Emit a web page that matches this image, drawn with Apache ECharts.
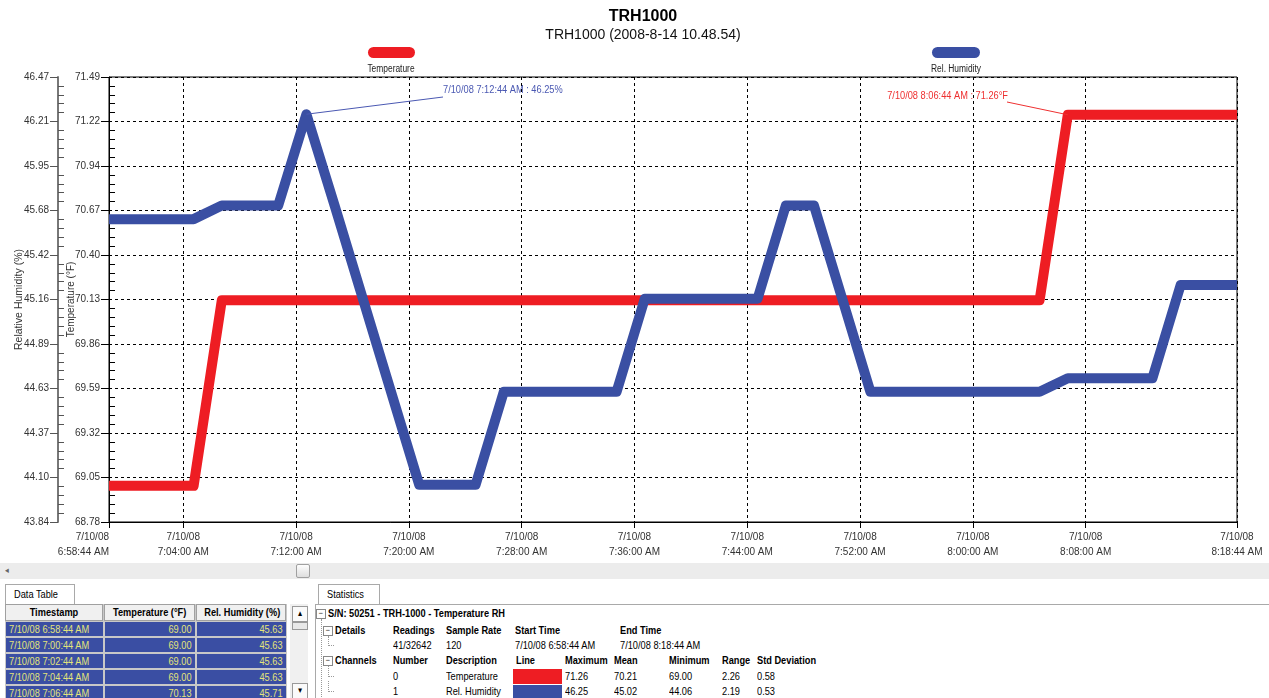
<!DOCTYPE html>
<html>
<head>
<meta charset="UTF-8">
<script src="https://cdn.jsdelivr.net/npm/echarts@6/dist/echarts.min.js"></script>
<style>
body{margin:0;background:#fff;font-family:'Liberation Sans',Arial,sans-serif;}
#chart{position:absolute;left:0;top:0;width:1269px;height:562px;}
#panel{position:absolute;left:0;top:562px;width:1269px;height:136px;overflow:hidden;font-size:11px;color:#000;}
.abs{position:absolute;white-space:nowrap;}
.n{display:inline-block;transform:scaleX(0.84);transform-origin:left center;}
.r .n{transform-origin:right center;}
.c .n{transform-origin:center center;}
.hscroll{left:0;top:1px;width:1269px;height:16px;background:#ececec;}
.hthumb{left:296px;top:2px;width:12px;height:12px;border:1px solid #a0a0a0;background:linear-gradient(#fdfdfd,#dedede);border-radius:2px;}
.tab{top:22px;height:19px;border:1px solid #a9a9a9;border-bottom:none;background:#fff;line-height:19px;padding:0 8px;font-size:11px;}
.hd{background:#f0f0f0;border:1px solid #a0a0a0;font-weight:bold;text-align:center;height:15px;line-height:15px;}
.cell{background:#3a4ea3;color:#e4e47a;height:14px;line-height:14px;padding:0 3px;box-sizing:border-box;}
.box{width:8px;height:8px;border:1px solid #888;background:#fff;font-size:9px;line-height:7px;text-align:center;color:#333;}
.b{font-weight:bold;}
</style>
</head>
<body>
<div id="chart"></div>
<div id="panel"></div>
<script>
// readings every 2 minutes, 7/10/08
var times = ['06:58:44','07:00:44','07:02:44','07:04:44','07:06:44','07:08:44','07:10:44','07:12:44','07:14:44','07:16:44',
  '07:18:44','07:20:44','07:22:44','07:24:44','07:26:44','07:28:44','07:30:44','07:32:44','07:34:44','07:36:44',
  '07:38:44','07:40:44','07:42:44','07:44:44','07:46:44','07:48:44','07:50:44','07:52:44','07:54:44','07:56:44',
  '07:58:44','08:00:44','08:02:44','08:04:44','08:06:44','08:08:44','08:10:44','08:12:44','08:14:44','08:16:44','08:18:44'];
var temperature = [69.00,69.00,69.00,69.00,
  70.13,70.13,70.13,70.13,70.13,70.13,70.13,70.13,70.13,70.13,
  70.13,70.13,70.13,70.13,70.13,70.13,70.13,70.13,70.13,70.13,
  70.13,70.13,70.13,70.13,70.13,70.13,70.13,70.13,70.13,70.13,
  71.26,71.26,71.26,71.26,71.26,71.26,71.26];
var humidity = [45.63,45.63,45.63,45.63,
  45.71,45.71,45.71,
  46.25,
  45.71,45.16,44.61,
  44.06,44.06,44.06,
  44.61,44.61,44.61,44.61,44.61,
  45.16,45.16,45.16,45.16,45.16,
  45.71,45.71,
  45.16,
  44.61,44.61,44.61,44.61,44.61,44.61,44.61,
  44.69,44.69,44.69,44.69,
  45.24,45.24,45.24];
var xTicks = ['06:58:44','07:04:00','07:12:00','07:20:00','07:28:00','07:36:00','07:44:00','07:52:00','08:00:00','08:08:00','08:18:44'];
var tempTicks = ['68.78','69.05','69.32','69.59','69.86','70.13','70.40','70.67','70.94','71.22','71.49'];
var humTicks = ['43.84','44.10','44.37','44.63','44.89','45.16','45.42','45.68','45.95','46.21','46.47'];

// data table (first rows) and statistics
var tableRows = [
  ['7/10/08 6:58:44 AM','69.00','45.63'],
  ['7/10/08 7:00:44 AM','69.00','45.63'],
  ['7/10/08 7:02:44 AM','69.00','45.63'],
  ['7/10/08 7:04:44 AM','69.00','45.63'],
  ['7/10/08 7:06:44 AM','70.13','45.71']
];
var statRows = [
  ['0','Temperature','#ee1d23','71.26','70.21','69.00','2.26','0.58'],
  ['1','Rel. Humidity','#3a4fa3','46.25','45.02','44.06','2.19','0.53']
];

function toSec(s){ var p = s.split(':'); return (+p[0])*3600 + (+p[1])*60 + (+p[2]); }
function fmtTime(sec){
  var h = Math.floor(sec/3600), m = Math.floor(sec%3600/60), s = sec%60;
  var ap = h >= 12 ? 'PM' : 'AM';
  var hh = h % 12 === 0 ? 12 : h % 12;
  return hh + ':' + (m<10?'0':'') + m + ':' + (s<10?'0':'') + s + ' ' + ap;
}
function tickFmt(list){
  var lo = +list[0], step = +((list[list.length-1] - list[0]) / (list.length-1)).toFixed(4);
  return { min: lo, max: +list[list.length-1], interval: step,
    formatter: function(v){ var i = Math.round((v - lo)/step); return list[i] || ''; } };
}

var RED = '#ee1d23', BLUE = '#3a4fa3';
var FONT = "'Liberation Sans',Arial,sans-serif";
var tA = tickFmt(tempTicks), hA = tickFmt(humTicks);

var myChart = echarts.init(document.getElementById('chart'));
myChart.setOption({
  animation: false,
  textStyle: { fontFamily: FONT },
  grid: { left: 109, right: 32, top: 77, bottom: 40, show: true, borderColor: '#000', borderWidth: 1,
    containLabel: false, outerBoundsMode: 'none' },
  graphic: [
    { type: 'text', x: 643, y: 17, style: { text: 'TRH1000', font: "bold 16px 'Liberation Sans',Arial", fill: '#000', align: 'center', verticalAlign: 'middle' } },
    { type: 'text', x: 643, y: 35, style: { text: 'TRH1000 (2008-8-14 10.48.54)', font: "14px 'Liberation Sans',Arial", fill: '#111', align: 'center', verticalAlign: 'middle' } },
    { type: 'rect', shape: { x: 368, y: 47, width: 47, height: 11, r: 5.5 }, style: { fill: RED } },
    { type: 'text', x: 391, y: 69, scaleX: 0.84, style: { text: 'Temperature', fill: '#222', font: '10px ' + FONT, align: 'center', verticalAlign: 'middle' } },
    { type: 'rect', shape: { x: 932, y: 47, width: 48, height: 11, r: 5.5 }, style: { fill: BLUE } },
    { type: 'text', x: 956, y: 69, scaleX: 0.84, style: { text: 'Rel. Humidity', fill: '#222', font: '10px ' + FONT, align: 'center', verticalAlign: 'middle' } },
    { type: 'text', x: 443, y: 90, scaleX: 0.84, style: { text: '7/10/08 7:12:44 AM : 46.25%', fill: '#4a58b2', font: '11px ' + FONT, verticalAlign: 'middle' } },
    { type: 'text', x: 1008, y: 96, scaleX: 0.84, style: { text: '7/10/08 8:06:44 AM : 71.26°F', fill: '#ee3030', font: '11px ' + FONT, align: 'right', verticalAlign: 'middle' } }
  ],
  xAxis: {
    type: 'value',
    min: toSec(times[0]), max: toSec(times[times.length-1]),
    axisLine: { lineStyle: { color: '#000' } },
    axisTick: { customValues: xTicks.map(toSec), length: 6, lineStyle: { color: '#000' } },
    axisLabel: {
      customValues: xTicks.map(toSec), color: '#333', fontSize: 10, lineHeight: 15, margin: 8,
      alignMinLabel: 'right',
      formatter: function(v){ return '7/10/08\n' + fmtTime(v); }
    },
    splitLine: { show: true, lineStyle: { color: '#000', type: [3, 3] } }
  },
  yAxis: [
    {
      type: 'value', position: 'left', offset: 0,
      min: tA.min, max: tA.max, interval: tA.interval,
      name: 'Temperature (°F)', nameLocation: 'middle', nameGap: 33, nameMoveOverlap: false,
      nameTextStyle: { color: '#333', fontSize: 10 },
      axisLine: { show: true, lineStyle: { color: '#000' } },
      axisTick: { show: true, length: 8, lineStyle: { color: '#000' } },
      minorTick: { show: true, splitNumber: 5, length: -6, lineStyle: { color: '#000' } },
      axisLabel: { color: '#333', fontSize: 10, margin: 9, formatter: tA.formatter },
      splitLine: { show: true, lineStyle: { color: '#000', type: [3, 3] } }
    },
    {
      type: 'value', position: 'left', offset: 51,
      min: hA.min, max: hA.max, interval: hA.interval,
      name: 'Relative Humidity (%)', nameLocation: 'middle', nameGap: 33, nameMoveOverlap: false,
      nameTextStyle: { color: '#333', fontSize: 10.5 },
      axisLine: { show: true, lineStyle: { color: '#777', width: 2 } },
      axisTick: { show: true, length: 8, lineStyle: { color: '#555' } },
      minorTick: { show: true, splitNumber: 5, length: -6, lineStyle: { color: '#555' } },
      axisLabel: { color: '#333', fontSize: 10, margin: 9, formatter: hA.formatter },
      splitLine: { show: false }
    }
  ],
  series: [
    {
      name: 'Temperature', type: 'line', yAxisIndex: 0, showSymbol: false,
      data: times.map(function(t, i){ return [toSec(t), temperature[i]]; }),
      lineStyle: { color: RED, width: 10, join: 'round', cap: 'butt' },
      markLine: {
        silent: true, symbol: ['none', 'none'], label: { show: false },
        lineStyle: { color: '#ee3030', width: 1, type: 'solid' },
        data: [[{ coord: [toSec('08:06:44'), 71.26] }, { x: 1007, y: 102 }]]
      }
    },
    {
      name: 'Rel. Humidity', type: 'line', yAxisIndex: 1, showSymbol: false,
      data: times.map(function(t, i){ return [toSec(t), humidity[i]]; }),
      lineStyle: { color: BLUE, width: 10, join: 'round', cap: 'butt' },
      markLine: {
        silent: true, symbol: ['none', 'none'], label: { show: false },
        lineStyle: { color: '#4a58b2', width: 1, type: 'solid' },
        data: [[{ coord: [toSec('07:12:44'), 46.25] }, { x: 443, y: 97 }]]
      }
    }
  ]
});

// lower panels
var p = document.getElementById('panel');
function add(cls, x, y, txt, extra){
  var d = document.createElement('div');
  d.className = 'abs ' + cls;
  d.style.left = x + 'px'; d.style.top = y + 'px';
  if (extra) d.style.cssText += extra;
  if (txt != null) {
    var s = document.createElement('span');
    s.className = 'n';
    s.textContent = txt;
    d.appendChild(s);
  }
  p.appendChild(d);
  return d;
}
add('hscroll', 0, 1, null);
add('', 5, 3, '◂', 'font-size:9px;color:#666;');
add('hthumb', 296, 2, null);

add('tab', 5, 22, 'Data Table');
add('tab', 318, 22, 'Statistics');
add('', 315, 42, null, 'width:954px;height:100px;border-left:1px solid #a9a9a9;border-top:1px solid #a9a9a9;');

// data table
var cols = [[5, 98, 'Timestamp', 'left'], [104, 91, 'Temperature (°F)', 'right'], [196, 90, 'Rel. Humidity (%)', 'right']];
add('', 5, 42, null, 'width:282px;height:100px;background:#c8c8c8;');
cols.forEach(function(c){ add('hd c', c[0], 42, c[2], 'width:' + (c[1]-2) + 'px;'); });
tableRows.forEach(function(r, i){
  cols.forEach(function(c, j){
    add('cell' + (c[3] === 'right' ? ' r' : ''), c[0] + 1, 60 + i*16, r[j], 'width:' + (c[1]-1) + 'px;text-align:' + c[3] + ';');
  });
});
add('', 290, 42, null, 'width:18px;height:100px;background:#f0f0f0;');
add('c', 292, 44, '▲', 'width:14px;height:14px;border:1px solid #999;background:#fafafa;font-size:8px;text-align:center;line-height:14px;');
add('', 292, 60, null, 'width:14px;height:6px;border:1px solid #999;background:#e8e8e8;');
add('c', 292, 121, '▼', 'width:14px;height:14px;border:1px solid #999;background:#fafafa;font-size:8px;text-align:center;line-height:14px;');

// statistics tree
add('box c', 316, 47, '−');
add('b', 328, 45, 'S/N: 50251 - TRH-1000 - Temperature  RH');
add('', 321, 57, null, 'width:0;height:80px;border-left:1px dotted #999;');
add('box c', 323, 64, '−');
add('b', 335, 62, 'Details');
add('b', 393, 62, 'Readings');
add('b', 446, 62, 'Sample Rate');
add('b', 515, 62, 'Start Time');
add('b', 620, 62, 'End Time');
add('', 328, 74, null, 'width:5px;height:9px;border-left:1px dotted #999;border-bottom:1px dotted #999;');
add('', 393, 77, '41/32642');
add('', 446, 77, '120');
add('', 515, 77, '7/10/08 6:58:44 AM');
add('', 620, 77, '7/10/08 8:18:44 AM');
add('box c', 323, 94, '−');
add('b', 335, 92, 'Channels');
var hdr = [['Number', 393], ['Description', 446], ['Line', 516], ['Maximum', 565], ['Mean', 614], ['Minimum', 669], ['Range', 722], ['Std Deviation', 757]];
hdr.forEach(function(h){ add('b', h[1], 92, h[0]); });
statRows.forEach(function(r, i){
  var y = 108 + i*15;
  add('', 328, y - 4, null, 'width:5px;height:10px;border-left:1px dotted #999;border-bottom:1px dotted #999;');
  add('', 393, y, r[0]);
  add('', 446, y, r[1]);
  add('', 513, y - 1 + i, null, 'width:49px;height:' + (15 - i) + 'px;background:' + r[2] + ';');
  add('', 565, y, r[3]);
  add('', 614, y, r[4]);
  add('', 669, y, r[5]);
  add('', 722, y, r[6]);
  add('', 757, y, r[7]);
});
</script>
</body>
</html>
